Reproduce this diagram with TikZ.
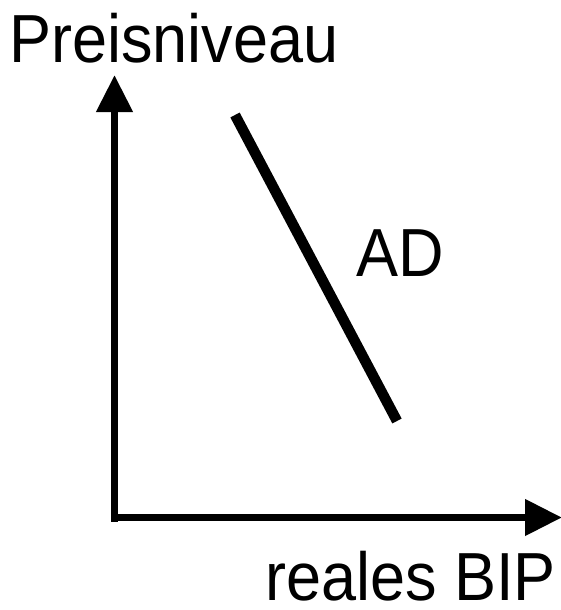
\documentclass[tikz,border=0pt]{standalone}
\usepackage{fontspec}
\setmainfont{Liberation Sans}
\usetikzlibrary{arrows.meta}
\begin{document}
\begin{tikzpicture}[x=1pt,y=-1pt,
  axis/.style={line width=7.5pt,-{Triangle[length=37pt,width=35pt]}},
  curve/.style={line width=10.5pt},
  lbl/.style={inner sep=0pt,yscale=1.08,font=\fontsize{63}{63}\selectfont}]
\useasboundingbox (0,0) rectangle (561,610);
\coordinate (o) at (114.5,521.5);
\coordinate (ytip) at (114.5,75);
\coordinate (xo) at (111,517.5);
\coordinate (xtip) at (562,517.5);
\coordinate (ad1) at (235,115);
\coordinate (ad2) at (397,421);
\draw[axis] (o) -- (ytip);
\draw[axis] (xo) -- (xtip);
\draw[curve] (ad1) -- (ad2);
\node[lbl,anchor=base west] (py) at (9,63) {Preisniveau};
\node[lbl,anchor=base east] (px) at (556,600) {reales BIP};
\node[lbl,anchor=base west] (ad) at (356,276) {AD};
\end{tikzpicture}
\end{document}
